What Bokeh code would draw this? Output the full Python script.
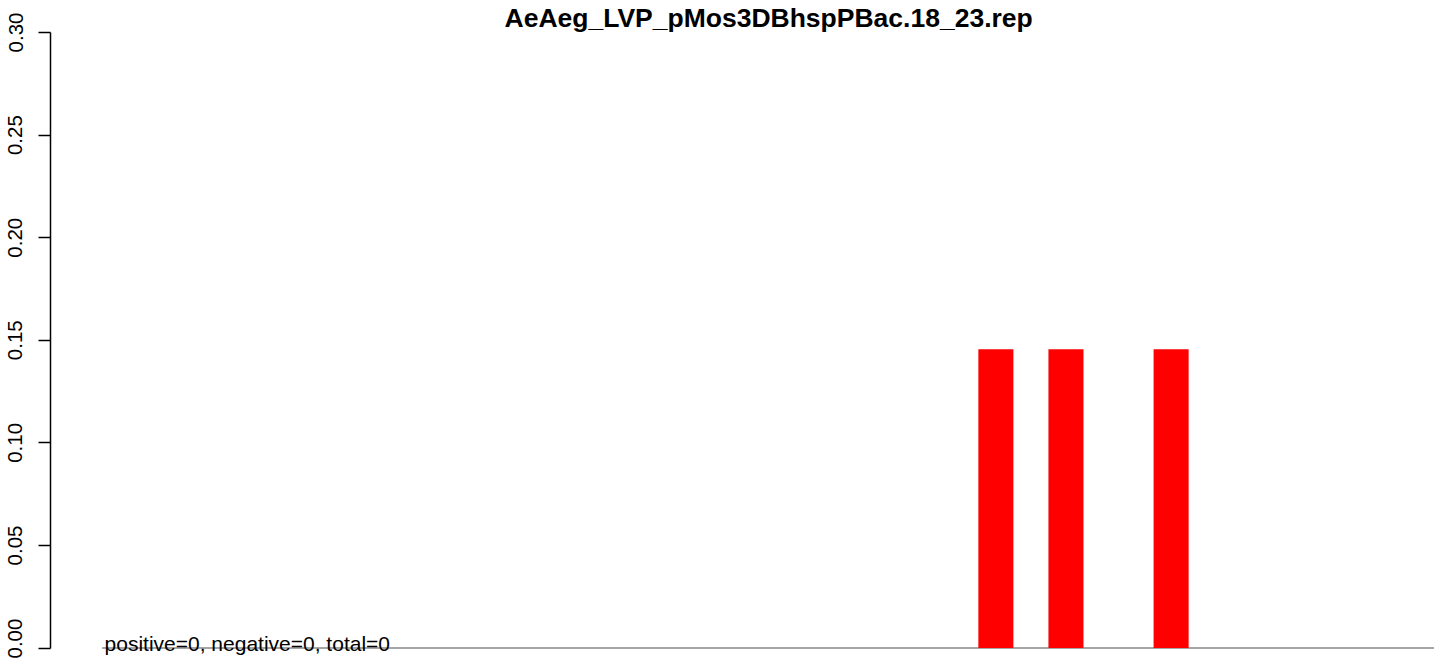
from bokeh.plotting import figure
from bokeh.models import Range1d, FixedTicker, ColumnDataSource
from bokeh.core.properties import value
from bokeh.embed import file_html
from bokeh.resources import INLINE

# ---- data ----
title_text = "AeAeg_LVP_pMos3DBhspPBac.18_23.rep"
note_text = "positive=0, negative=0, total=0"
bins = list(range(38))
values = [0, 0, 0, 0, 0, 0, 0, 0, 0, 0,
          0, 0, 0, 0, 0, 0, 0, 0, 0, 0,
          0, 0, 0, 0, 0, 0.1456, 0, 0.1456, 0, 0,
          0.1456, 0, 0, 0, 0, 0, 0, 0]
y_ticks = [0.0, 0.05, 0.10, 0.15, 0.20, 0.25, 0.30]
y_tick_labels = ["0.00", "0.05", "0.10", "0.15", "0.20", "0.25", "0.30"]

FONT = "Liberation Sans"

p = figure(width=1444, height=658, output_backend="svg", toolbar_location=None,
           x_range=Range1d(-1.472, 38.30), y_range=Range1d(-0.00511, 0.30),
           min_border_left=50, min_border_right=0, min_border_top=31, min_border_bottom=0)
p.outline_line_color = None
p.xaxis.visible = False
p.xgrid.visible = False
p.ygrid.visible = False
p.background_fill_color = "white"
p.border_fill_color = "white"

p.title.text = title_text
p.title.text_font = FONT
p.title.text_font_size = "26.5px"
p.title.text_font_style = "bold"
p.title.text_color = "black"
p.title.align = "left"
p.title.offset = 454
p.title.standoff = 0

yax = p.yaxis[0]
yax.ticker = FixedTicker(ticks=y_ticks)
yax.major_label_overrides = {t: l for t, l in zip(y_ticks, y_tick_labels)}
yax.bounds = (0, 0.30)
yax.major_label_orientation = "vertical"
yax.major_tick_out = 12
yax.major_tick_in = 0
yax.minor_tick_out = 0
yax.minor_tick_in = 0
yax.axis_line_width = 1.5
yax.major_tick_line_width = 1.5
yax.axis_line_color = "black"
yax.major_tick_line_color = "black"
yax.major_label_text_font = FONT
yax.major_label_text_font_size = "20.5px"
yax.major_label_text_color = "black"
yax.major_label_standoff = 16

# baseline line
p.line(x=[bins[0], bins[-1] + 1], y=[0, 0], line_color="#A6A6A6", line_width=2)

src = ColumnDataSource(dict(x=[b + 0.5 for b in bins], top=values))
p.vbar(x="x", top="top", bottom=0, width=1.0, source=src,
       fill_color="#FF0000", line_color=None)

p.text(x=[0.07], y=[0], text=[note_text], text_font=value(FONT),
       text_font_size="21px", text_color="black", text_baseline="alphabetic",
       text_align="left", y_offset=-5)

open("out.html", "w").write(file_html(p, INLINE))
